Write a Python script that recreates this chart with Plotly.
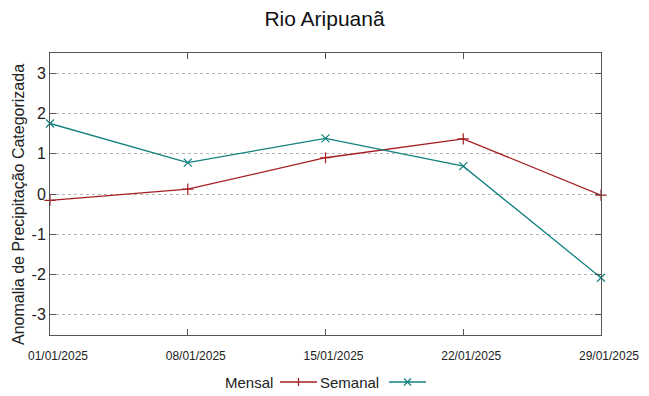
import plotly.graph_objects as go

dates = ["2025-01-01", "2025-01-08", "2025-01-15", "2025-01-22", "2025-01-29"]
tick_labels = ["01/01/2025", "08/01/2025", "15/01/2025", "22/01/2025", "29/01/2025"]
mensal = [-0.16, 0.12, 0.90, 1.37, -0.03]
semanal = [1.75, 0.78, 1.38, 0.69, -2.08]
y_ticks = [-3, -2, -1, 0, 1, 2, 3]
y_tick_labels = ["-3", "-2", "-1", "0", "1", "2", "3"]

RED = "#a51e22"
TEAL = "#11807f"
FONT = "Liberation Sans, Arial, sans-serif"

OFF = 8  # page body margin offset
W, H = 649 - OFF, 396 - OFF
L, T = 50 - OFF, 53 - OFF
R = W - (601 - OFF)
B = H - (335 - OFF)
PW, PH = W - L - R, H - T - B


def px(x):
    return (x - OFF - L) / PW


def py(y):
    return (H - B - (y - OFF)) / PH


fig = go.Figure()
fig.add_trace(go.Scatter(x=dates, y=mensal, name="Mensal", mode="lines+markers",
                         line=dict(color=RED, width=1.3),
                         marker=dict(symbol="cross-thin", size=8, line=dict(color=RED, width=1.2)),
                         showlegend=False, cliponaxis=False))
fig.add_trace(go.Scatter(x=dates, y=semanal, name="Semanal", mode="lines+markers",
                         line=dict(color=TEAL, width=1.3),
                         marker=dict(symbol="x-thin", size=8, line=dict(color=TEAL, width=1.2)),
                         showlegend=False, cliponaxis=False))

fig.update_layout(
    width=W, height=H,
    margin=dict(l=L, r=R, t=T, b=B, autoexpand=False),
    paper_bgcolor="white", plot_bgcolor="white",
    font=dict(family=FONT, color="#222"),
    title=dict(text="Rio Aripuanã", x=px(324.5), xref="paper", xanchor="center",
               y=1 - (19 - OFF) / H, yanchor="middle",
               font=dict(size=21, color="#111")),
)
fig.update_xaxes(
    type="date", range=[dates[0], dates[-1]], automargin=False,
    tickvals=dates, ticktext=tick_labels,
    tickfont=dict(size=12, color="#222"),
    ticks="inside", ticklen=6, tickcolor="#555",
    ticklabelshift=8, ticklabelstandoff=10,
    showline=True, linecolor="#555", linewidth=1, mirror="ticks",
    showgrid=False, zeroline=False,
)
fig.update_yaxes(
    range=[-3.5, 3.5], tickvals=y_ticks, ticktext=y_tick_labels, automargin=False,
    tickfont=dict(size=16, color="#222"),
    ticks="inside", ticklen=6, tickcolor="#555",
    showline=True, linecolor="#555", linewidth=1, mirror="ticks",
    showgrid=True, gridcolor="#b4b4b4", griddash="dot", gridwidth=1,
    zeroline=False,
)

fig.add_annotation(text="Anomalia de Precipitação Categorizada", xref="paper", yref="paper",
                   x=px(18), y=py(205), textangle=-90, showarrow=False,
                   xanchor="center", yanchor="middle", font=dict(size=16, color="#222"))

# manual legend (text left, sample right)
legend_items = [("Mensal", RED, "plus", 275, 280, 317), ("Semanal", TEAL, "x", 381, 389, 426)]
yp = 382
for name, color, kind, tx, x0, x1 in legend_items:
    fig.add_annotation(text=name, xref="paper", yref="paper",
                       x=px(tx), y=py(yp), xanchor="right", yanchor="middle",
                       showarrow=False, font=dict(size=15, color="#222"))
    fig.add_shape(type="line", xref="paper", yref="paper", x0=px(x0), x1=px(x1), y0=py(yp), y1=py(yp),
                  line=dict(color=color, width=1.3))
    cx = (x0 + x1) / 2
    if kind == "plus":
        fig.add_shape(type="line", xref="paper", yref="paper", x0=px(cx), x1=px(cx), y0=py(yp - 4), y1=py(yp + 4),
                      line=dict(color=color, width=1.2))
    else:
        for s in (1, -1):
            fig.add_shape(type="line", xref="paper", yref="paper", x0=px(cx - 3.5), x1=px(cx + 3.5),
                          y0=py(yp - 3.5 * s), y1=py(yp + 3.5 * s),
                          line=dict(color=color, width=1.2))

fig.write_html("out.html")
